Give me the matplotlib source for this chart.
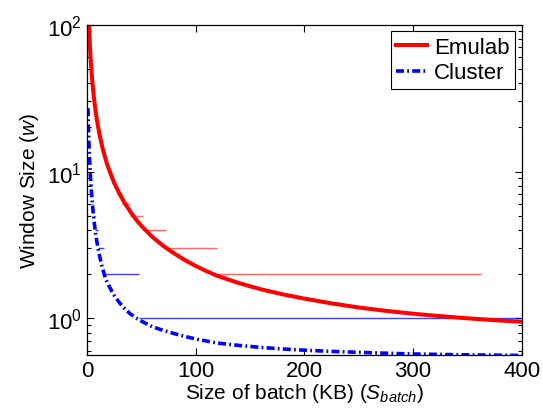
import numpy as np
import matplotlib
matplotlib.use('Agg')
import matplotlib.pyplot as plt

plt.rcParams['font.family'] = ['Liberation Sans', 'DejaVu Sans']
plt.rcParams['mathtext.fontset'] = 'custom'
plt.rcParams['mathtext.rm'] = 'Liberation Sans'
plt.rcParams['mathtext.it'] = 'Liberation Sans:italic'

# Emulab curve (batch size KB, window size)
emulab_x = [2, 2.5, 3, 3.5, 4, 5, 6, 7, 8, 9, 10, 12, 14, 16, 18, 20, 25, 30,
            35, 40, 45, 50, 60, 70, 80, 90, 100, 110, 120, 140, 160, 180, 200,
            225, 250, 275, 300, 325, 350, 375, 400]
emulab_w = [100, 81, 67, 58, 51, 41, 34.3, 29.5, 25.8, 23, 20.8, 17.3, 14.9,
            13.1, 11.6, 10.5, 8.4, 7.07, 6.07, 5.33, 4.74, 4.28, 3.6, 3.13,
            2.78, 2.5, 2.28, 2.1, 1.95, 1.74, 1.58, 1.46, 1.365, 1.267, 1.188,
            1.127, 1.077, 1.037, 1.003, 0.973, 0.95]

# Cluster curve
cluster_x = [1, 1.5, 2, 2.5, 3, 3.5, 4, 5, 6, 7, 8, 9, 10, 12, 14, 17, 20, 25,
             30, 35, 40, 45, 50, 60, 70, 80, 90, 100, 120, 140, 160, 180, 200,
             225, 250, 275, 300, 350, 400]
cluster_w = [27, 19.3, 15, 12, 10.1, 8.7, 7.6, 6.1, 5.08, 4.36, 3.81, 3.4, 3.08,
             2.6, 2.25, 1.88, 1.68, 1.44, 1.28, 1.16, 1.075, 1.01, 0.96, 0.88,
             0.83, 0.79, 0.755, 0.725, 0.68, 0.655, 0.635, 0.62, 0.608, 0.597,
             0.588, 0.58, 0.573, 0.565, 0.56]

# measured integer windows (thin steps)
emulab_step_levels = [2, 3, 4, 5, 6, 7, 8, 9, 10]
emulab_step_edges = [362, 120, 73, 52, 40, 32.5, 28, 25, 22.4, 19.5]
cluster_step_levels = [1, 2, 3, 4, 5, 6, 7, 8]
cluster_step_edges = [400, 48, 16, 10.1, 7.5, 6, 5, 4.3, 3.8]

fig = plt.figure(figsize=(5.43, 4.14), dpi=100)
ax = fig.add_axes([0.160, 0.139, 0.801, 0.799])

ax.hlines(emulab_step_levels, emulab_step_edges[1:], emulab_step_edges[:-1],
          color='red', lw=1.0, alpha=0.6)
ax.hlines(cluster_step_levels, cluster_step_edges[1:], cluster_step_edges[:-1],
          color='blue', lw=1.0, alpha=0.75)

ax.plot(emulab_x, emulab_w, color='red', lw=2.9, label='Emulab')
ax.plot(cluster_x, cluster_w, color='blue', lw=2.6, label='Cluster',
        dashes=(2.2, 0.9, 0.5, 0.9))

ax.set_yscale('log')
ax.set_xlim(0, 400)
ax.set_ylim(0.56, 100)
ax.set_xticks([0, 100, 200, 300, 400])
ax.tick_params(which='both', direction='in', top=True, right=True,
               labelsize=16, width=0.8)
ax.tick_params(which='major', length=5)
ax.tick_params(which='minor', length=3)
for s in ax.spines.values():
    s.set_linewidth(0.9)

ax.set_xlabel('Size of batch (KB) ($S_{batch}$)', fontsize=15, labelpad=0)
ax.set_ylabel('Window Size ($w$)', fontsize=15, labelpad=4)

leg = ax.legend(loc='upper right', fontsize=16, fancybox=False, framealpha=1,
                edgecolor='black', borderaxespad=0.3, handlelength=1.4,
                handletextpad=0.3, borderpad=0.25, labelspacing=0.2)
leg.get_frame().set_linewidth(0.8)

fig.savefig('out.png', dpi=100)
